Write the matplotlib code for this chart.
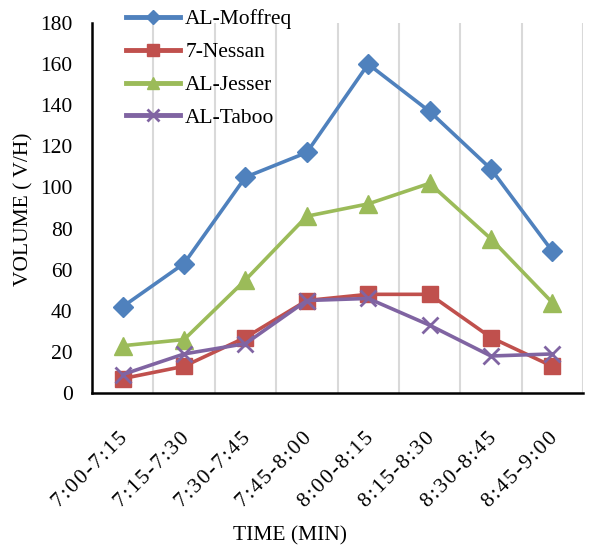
import matplotlib
matplotlib.use("Agg")
import matplotlib.pyplot as plt
import matplotlib.transforms as mtransforms
import numpy as np

### Data
periods = ["7:00-7:15", "7:15-7:30", "7:30-7:45", "7:45-8:00",
           "8:00-8:15", "8:15-8:30", "8:30-8:45", "8:45-9:00"]
moffreq = [42, 63, 105, 117, 160, 137, 109, 69]
nessan = [7, 13, 27, 45, 48, 48, 27, 13]
jesser = [23, 26, 55, 86, 92, 102, 75, 44]
taboo = [9, 19, 24, 45, 46, 33, 18, 19]

### Style
plt.rcParams['font.family'] = ['Liberation Serif', 'DejaVu Serif']
fs = 15.5
lw = 2.6

def spaced(s):
    # Excel draws these labels with loose letter spacing
    return "\u200a".join(s)

fig = plt.figure(figsize=(5.91, 5.49), dpi=100)
ax = fig.add_axes([92/591., 1-393/549., (583-92)/591., (393-23)/549.])

x = np.arange(len(periods))
ax.plot(x, moffreq, color="#4F81BD", lw=lw, marker="D", ms=10, label="AL-Moffreq")
ax.plot(x, nessan, color="#C0504D", lw=lw, marker="s", ms=12, label="7-Nessan")
ax.plot(x, jesser, color="#9BBB59", lw=lw, marker="^", ms=13, label="AL-Jesser")
ax.plot(x, taboo, color="#8064A2", lw=lw, marker="x", ms=12, mew=2, label="AL-Taboo")

ax.set_xlim(-0.5, len(periods) - 0.5)
ax.set_ylim(0, 180)
ax.set_yticks(range(0, 181, 20))
ax.set_xticks(x)
ax.set_xticklabels([spaced(p) for p in periods], rotation=45, ha="right", va="top",
                   rotation_mode="anchor")
ax.set_xticks(np.arange(0.5, len(periods), 1.0), minor=True)
ax.grid(which="minor", axis="x", color="#D9D9D9", lw=1.5)
ax.set_axisbelow(True)
ax.tick_params(which="both", length=0, labelsize=fs)
ax.tick_params(axis="x", pad=26)
ax.tick_params(axis="y", pad=14)
shift = mtransforms.ScaledTranslation(-4/100., 0, fig.dpi_scale_trans)
for lab in ax.get_xticklabels():
    lab.set_transform(lab.get_transform() + shift)

for s in ["top", "right"]:
    ax.spines[s].set_visible(False)
ax.spines["left"].set_linewidth(1.8)
ax.spines["bottom"].set_linewidth(1.8)

fig.text(290/591., 1-536/549., "TIME (MIN)", ha="center", va="center", fontsize=fs)
fig.text(24/591., 1-209/549., "VOLUME ( V/H)", ha="center", va="center", rotation=90, fontsize=fs)

leg = ax.legend(loc="upper left", bbox_to_anchor=(126/591., 1-9/549.), bbox_transform=fig.transFigure,
                frameon=False, fontsize=fs, handlelength=2.5, labelspacing=0.6,
                handletextpad=0.25, borderaxespad=0, borderpad=0, markerscale=0.7)
for h in leg.get_lines():
    h.set_linewidth(3.5)

fig.savefig("out.png", dpi=100)
